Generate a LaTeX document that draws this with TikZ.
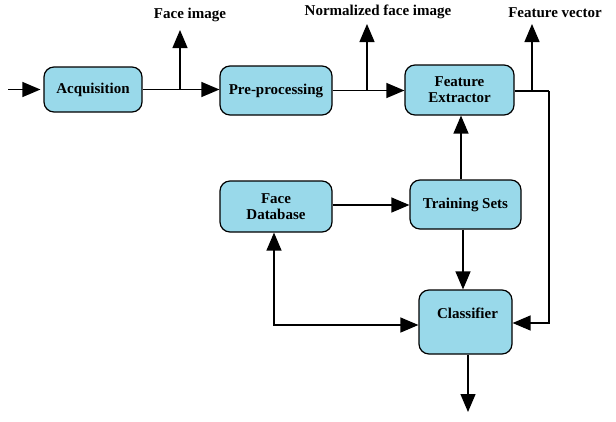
\documentclass[tikz,border=0pt]{standalone}
\usepackage{fontspec}
\setmainfont{Liberation Serif}
\usetikzlibrary{arrows.meta}
\definecolor{boxblue}{RGB}{153,217,234}
\begin{document}
\begin{tikzpicture}[x=1pt,y=-1pt,
  blk/.style={draw=black, line width=1.2pt, fill=boxblue, rounded corners=10pt, font=\bfseries\fontsize{15}{16}\selectfont, align=center, inner sep=0pt},
  lbl/.style={font=\bfseries\fontsize{15}{16}\selectfont, inner sep=0pt},
  conn/.style={line width=1.3pt, -{Triangle[length=18pt,width=15pt]}},
  wire/.style={line width=1.3pt}]
\useasboundingbox (0,0) rectangle (616,421);
\node[blk, minimum width=98pt, minimum height=45pt] (acq) at (93,89.5) {Acquisition};
\node[blk, minimum width=112pt, minimum height=49pt] (pre) at (276,90.5) {Pre-processing};
\node[blk, minimum width=109pt, minimum height=50pt] (fe) at (459.5,90) {Feature\\Extractor};
\node[blk, minimum width=112pt, minimum height=51pt] (db) at (276,206.5) {Face\\Database};
\node[blk, minimum width=111pt, minimum height=49pt] (ts) at (465.5,204.5) {Training Sets};
\node[blk, minimum width=93pt, minimum height=64pt, label={[lbl,yshift=9pt,xshift=2pt]center:Classifier}] (cl) at (465.5,322) {};

\node[lbl] (l1) at (190,15) {Face image};
\node[lbl] (l2) at (378,12) {Normalized face image};
\node[lbl] (l3) at (555,13) {Feature vector};

\coordinate (in) at (8,89.5);
\coordinate (b1) at (180,89.5);
\coordinate (t1) at (180,30);
\coordinate (b2) at (367,90);
\coordinate (t2) at (367,24);
\coordinate (b3) at (532,91);
\coordinate (t3) at (532,24);
\coordinate (c3) at (549,91);
\coordinate (c4) at (549,323);
\coordinate (dbx) at (274,325);
\coordinate (out) at (468,412);

\draw[conn, shorten >=3pt] (in) -- (acq.west);
\draw[conn] (acq.east) -- (pre.west |- acq.east);
\draw[conn] (b1) -- (t1);
\draw[conn] (pre.east) -- (fe.west |- pre.east);
\draw[conn] (b2) -- (t2);
\draw[wire] (fe.east |- c3) -- (c3);
\draw[conn] (b3) -- (t3);
\draw[conn] (c3) -- (c4) -- (cl.east |- c4);
\draw[conn] (ts.north -| 461,0) -- (fe.south -| 461,0);
\draw[conn] (db.east |- 0,205) -- (ts.west |- 0,205);
\draw[conn] (ts.south -| 463,0) -- (cl.north -| 463,0);
\draw[conn, {Triangle[length=18pt,width=15pt]}-{Triangle[length=18pt,width=15pt]}] (db.south -| dbx) -- (dbx) -- (cl.west |- dbx);
\draw[conn] (cl.south -| out) -- (out);
\end{tikzpicture}
\end{document}
